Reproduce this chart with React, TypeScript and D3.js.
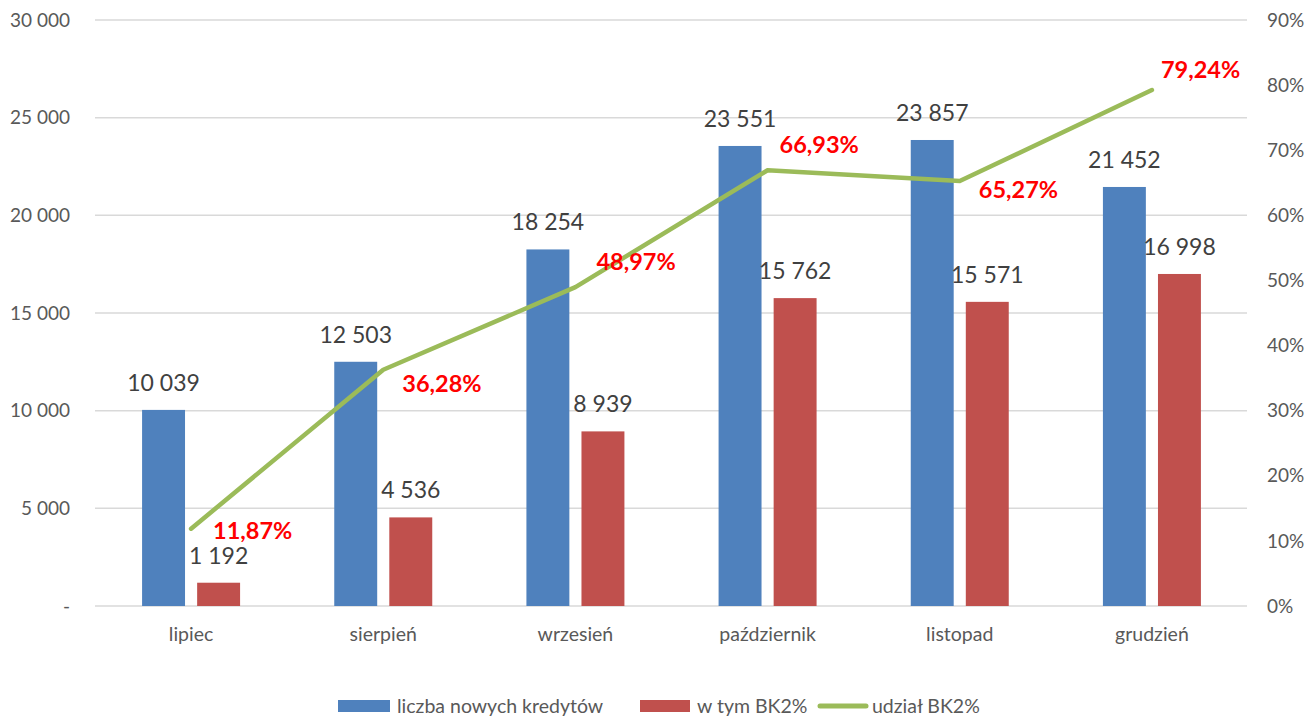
import React from "react";
import * as d3 from "d3";

const categories = ["lipiec", "sierpień", "wrzesień", "październik", "listopad", "grudzień"];
const newLoans = [10039, 12503, 18254, 23551, 23857, 21452];
const bk2Loans = [1192, 4536, 8939, 15762, 15571, 16998];
const bk2Share = [11.87, 36.28, 48.97, 66.93, 65.27, 79.24];
const leftTicks = [0, 5000, 10000, 15000, 20000, 25000, 30000];
const rightTicks = [0, 10, 20, 30, 40, 50, 60, 70, 80, 90];
const seriesNames = ["liczba nowych kredytów", "w tym BK2%", "udział BK2%"];
// label offsets (dx, dy of text centre from the point) for share labels
const shareLabelOffsets: [number, number][] = [
  [22, 2], [19, 14], [21, -25], [12, -25], [19, 9], [9, -20],
];

const W = 1307, H = 716;
const BLUE = "#4F81BD", RED = "#C0504D", GREEN = "#9BBB59";
const FONT = "Lato, 'Noto Sans', sans-serif";

const fmt = (v: number) => d3.format(",")(v).replace(/,/g, " ");

export default function App() {
  const x = d3.scaleBand<string>().domain(categories).range([95, 1248]).paddingInner(0).paddingOuter(0);
  const x1 = d3.scaleBand<string>().domain(["a", "b"]).range([-49, 49]).paddingInner(0.22);
  const yL = d3.scaleLinear().domain([0, 30000]).range([606, 20]);
  const yR = d3.scaleLinear().domain([0, 90]).range([606, 20]);
  const cx = (c: string) => (x(c) as number) + x.bandwidth() / 2;

  const line = d3.line<number>()
    .x((_, i) => cx(categories[i]))
    .y((d) => yR(d));

  return (
    <svg width={W} height={H} style={{ position: "absolute", left: 0, top: 0, background: "#fff" }} fontFamily={FONT}>
      <rect width={W} height={H} fill="#fff" />
      {leftTicks.map((t) => (
        <g key={t}>
          <line x1={95} x2={1247} y1={yL(t)} y2={yL(t)} stroke="#D9D9D9" strokeWidth={1.5} />
          <text x={70} y={yL(t)} dy="0.35em" textAnchor="end" fontSize={19} fill="#595959">
            {t === 0 ? "-" : fmt(t)}
          </text>
        </g>
      ))}
      {rightTicks.map((t) => (
        <text key={t} x={1267} y={yR(t)} dy="0.35em" textAnchor="start" fontSize={19} fill="#595959">
          {t}%
        </text>
      ))}
      {categories.map((c) => (
        <text key={c} x={cx(c)} y={634} dy="0.35em" textAnchor="middle" fontSize={19.5} fill="#595959">
          {c}
        </text>
      ))}
      {categories.map((c, i) => {
        const xa = cx(c) + (x1("a") as number);
        const xb = cx(c) + (x1("b") as number);
        const bw = x1.bandwidth();
        return (
          <g key={c}>
            <rect x={xa} y={yL(newLoans[i])} width={bw} height={yL(0) - yL(newLoans[i])} fill={BLUE} />
            <rect x={xb} y={yL(bk2Loans[i])} width={bw} height={yL(0) - yL(bk2Loans[i])} fill={RED} />
            <text x={xa + bw / 2} y={yL(newLoans[i]) - 19} textAnchor="middle" fontSize={23} fill="#404040">
              {fmt(newLoans[i])}
            </text>
            <text x={xb + bw / 2} y={yL(bk2Loans[i]) - 19} textAnchor="middle" fontSize={23} fill="#404040">
              {fmt(bk2Loans[i])}
            </text>
          </g>
        );
      })}
      <path d={line(bk2Share) || ""} fill="none" stroke={GREEN} strokeWidth={4.5} strokeLinecap="round" strokeLinejoin="round" />
      {categories.map((c, i) => (
        <text key={c} x={cx(c) + shareLabelOffsets[i][0]} y={yR(bk2Share[i]) + shareLabelOffsets[i][1]} dy="0.35em"
          textAnchor="start" fontSize={23.5} fontWeight="bold" fill="#FF0000">
          {bk2Share[i].toFixed(2).replace(".", ",")}%
        </text>
      ))}
      {/* legend */}
      <g fontSize={19.5} fill="#595959">
        <rect x={338} y={700} width={52} height={12} fill={BLUE} />
        <text x={397} y={706} dy="0.35em" fill="#595959">{seriesNames[0]}</text>
        <rect x={640} y={700} width={50} height={12} fill={RED} />
        <text x={697} y={706} dy="0.35em" fill="#595959">{seriesNames[1]}</text>
        <line x1={820} x2={866} y1={706} y2={706} stroke={GREEN} strokeWidth={5} strokeLinecap="round" />
        <text x={872} y={706} dy="0.35em" fill="#595959">{seriesNames[2]}</text>
      </g>
    </svg>
  );
}
